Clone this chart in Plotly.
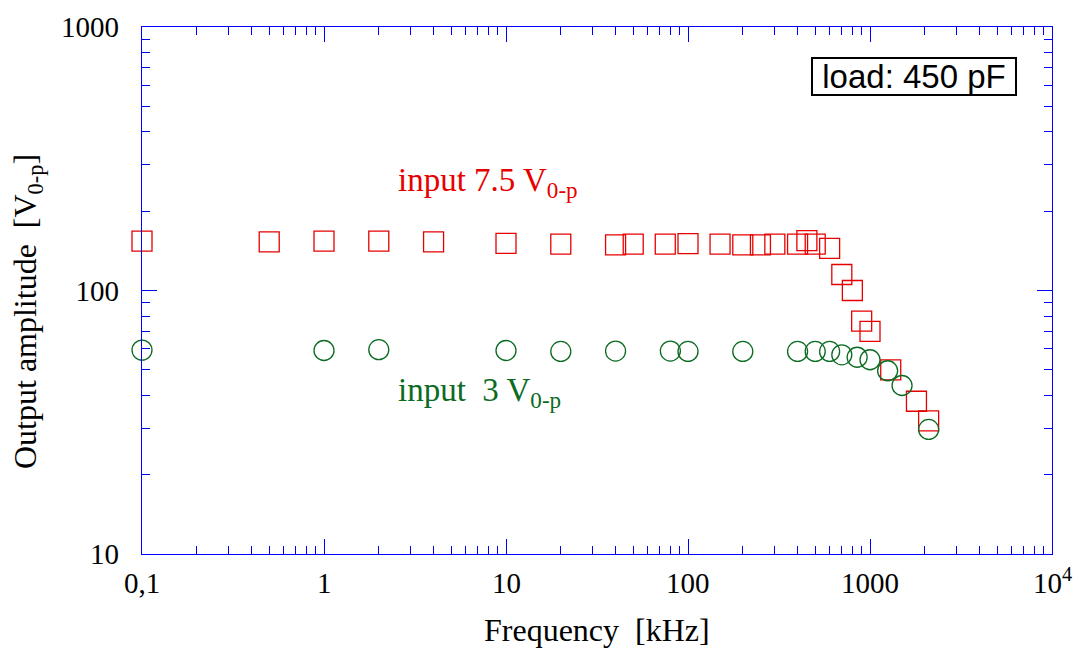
import plotly.graph_objects as go
import numpy as np

# Data (frequency in kHz, amplitude in V0-p)
freq_75 = [0.1, 0.5, 1, 2, 4, 10, 20, 40, 50, 75, 100, 150, 200, 250, 300, 400, 450, 500,
           600, 700, 800, 900, 1000, 1300, 1800, 2100]
amp_75 = [154, 153, 154, 154, 153, 151, 150, 149, 150, 150, 150.5, 150, 149, 149, 150, 150, 154.5, 150,
          144.5, 115, 100, 76.5, 70, 50, 38, 32]

freq_3 = [0.1, 1, 2, 10, 20, 40, 80, 100, 200, 400, 500, 600, 700, 850, 1000, 1250, 1500, 2100]
amp_3 = [59.4, 59.2, 59.6, 59.2, 58.7, 58.9, 58.9, 58.7, 58.7, 58.7, 58.7, 58.7, 57.0, 55.8, 54.6,
         49.6, 43.6, 29.7]

x_tickvals = [0.1, 1, 10, 100, 1000, 10000]
x_ticktext = ["0,1", "1", "10", "100", "1000", "10<sup>4</sup>"]
y_tickvals = [10, 100, 1000]
y_ticktext = ["10", "100", "1000"]

RED = "#e60000"
GREEN = "#0b6b22"
BLUE = "#0000ff"
SERIF = "Liberation Serif, Times New Roman, serif"

# page body has an 8px margin; target plot area in window px: x 142..1052, y 27..554
OFF = 8
PL, PR, PT, PB = 142, 1052, 27, 554
W, H = 1089, 651


def px(wx):
    return (wx - PL) / (PR - PL)


def py(wy):
    return (PB - wy) / (PB - PT)


fig = go.Figure()
fig.add_trace(go.Scatter(x=freq_75, y=amp_75, mode="markers", cliponaxis=False,
                         marker=dict(symbol="square-open", size=20, color=RED, line=dict(width=1.3, color=RED)),
                         showlegend=False))
fig.add_trace(go.Scatter(x=freq_3, y=amp_3, mode="markers", cliponaxis=False,
                         marker=dict(symbol="circle-open", size=20, color=GREEN, line=dict(width=1.3, color=GREEN)),
                         showlegend=False))

axis_common = dict(type="log", showgrid=False, zeroline=False, showline=True, linecolor=BLUE, linewidth=1.2,
                   mirror="allticks", ticks="inside", ticklen=15, tickcolor=BLUE, tickwidth=1,
                   automargin=False,
                   tickfont=dict(family=SERIF, size=29, color="black"),
                   minor=dict(ticks="inside", ticklen=8, tickcolor=BLUE, tickwidth=1, dtick="D1", showgrid=False))

# x tick labels are drawn as annotations below (for exact vertical placement)
fig.update_xaxes(range=[-1, 4], tickvals=x_tickvals, showticklabels=False, **axis_common)
fig.update_yaxes(range=[1, 3], tickvals=y_tickvals, ticktext=y_ticktext, ticklabelstandoff=16,
                 **axis_common)

for v, t in zip(x_tickvals, x_ticktext):
    fig.add_annotation(x=np.log10(v), y=py(594), xref="x", yref="paper", xanchor="center", yanchor="bottom",
                       text=t, showarrow=False, yshift=-7,
                       font=dict(family=SERIF, size=29, color="black"))

# axis titles
fig.add_annotation(x=px(597), y=py(630), xref="paper", yref="paper", xanchor="center", yanchor="middle",
                   text="Frequency  [kHz]", showarrow=False,
                   font=dict(family=SERIF, size=32, color="black"))
fig.add_annotation(x=px(27), y=py(312), xref="paper", yref="paper", xanchor="center", yanchor="middle",
                   text="Output amplitude  [V<sub>0-p</sub>]", showarrow=False, textangle=-90,
                   font=dict(family=SERIF, size=32, color="black"))

fig.add_annotation(x=np.log10(2.5), y=np.log10(256), xref="x", yref="y", xanchor="left", yanchor="middle",
                   text="input 7.5 V<sub>0-p</sub>", showarrow=False,
                   font=dict(family=SERIF, size=33, color=RED))
fig.add_annotation(x=np.log10(2.5), y=np.log10(41), xref="x", yref="y", xanchor="left", yanchor="middle",
                   text="input  3 V<sub>0-p</sub>", showarrow=False,
                   font=dict(family=SERIF, size=33, color=GREEN))
fig.add_annotation(x=px(913.7), y=py(76.5), xref="paper", yref="paper", xanchor="center", yanchor="middle",
                   showarrow=False, text="load: 450 pF",
                   font=dict(family="Liberation Sans, Arial, sans-serif", size=33, color="black"),
                   bordercolor="black", borderwidth=2, borderpad=0, bgcolor="white", width=202, height=35)

fig.update_layout(width=W, height=H,
                  margin=dict(l=PL - OFF, r=W - PR + OFF, t=PT - OFF, b=H - PB + OFF),
                  plot_bgcolor="white", paper_bgcolor="white")

fig.write_html("out.html")
